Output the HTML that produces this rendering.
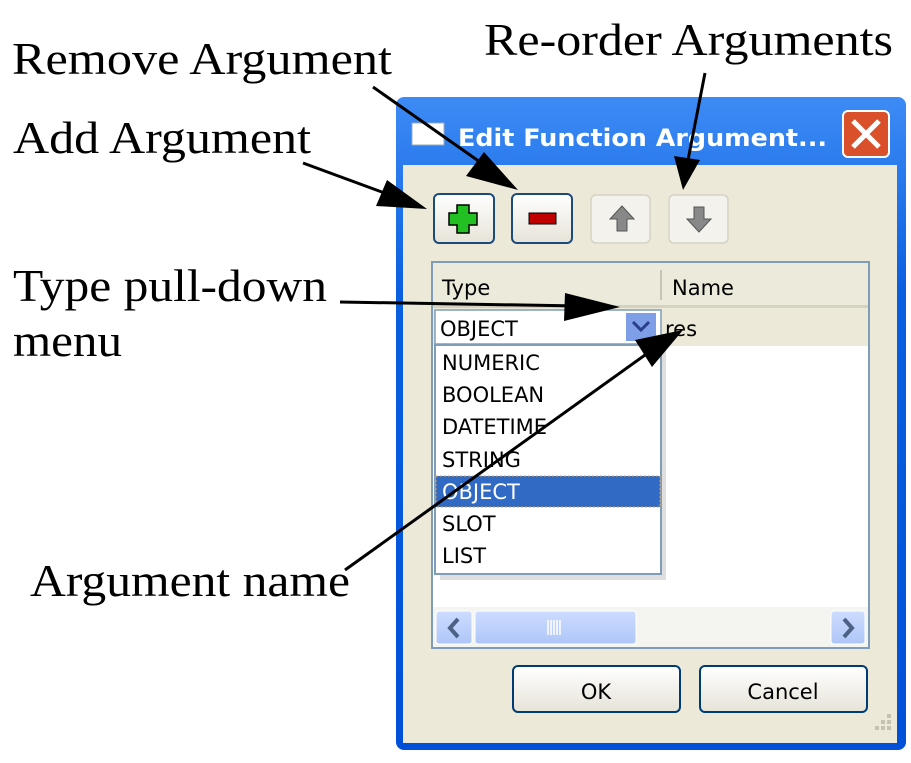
<!DOCTYPE html>
<html><head><meta charset="utf-8"><style>
html,body{margin:0;padding:0;background:#fff;}
svg{display:block}
.ui{font-family:"DejaVu Sans","Liberation Sans",sans-serif;font-size:21px;fill:#000}
.lbl{font-family:"Liberation Serif",serif;font-size:45px;fill:#000}
</style></head><body>
<svg width="911" height="763" viewBox="0 0 911 763" xmlns="http://www.w3.org/2000/svg">
<defs>
<linearGradient id="tb" x1="0" y1="0" x2="0" y2="1"><stop offset="0" stop-color="#3d8bf5"/><stop offset="0.3" stop-color="#0a5fe0"/><stop offset="1" stop-color="#0050d8"/></linearGradient>
<linearGradient id="btn" x1="0" y1="0" x2="0" y2="1"><stop offset="0" stop-color="#ffffff"/><stop offset="1" stop-color="#e6e3d8"/></linearGradient>
<linearGradient id="sb" x1="0" y1="0" x2="0" y2="1"><stop offset="0" stop-color="#cddcff"/><stop offset="1" stop-color="#aec6f7"/></linearGradient>
</defs>
<rect x="396" y="97" width="510" height="653" rx="8" fill="url(#tb)"/>
<rect x="403" y="165" width="494" height="578" fill="#ece9d8"/>
<rect x="412" y="123" width="32" height="22" fill="#fff" stroke="#9ab" stroke-width="1"/>
<text x="458" y="146" font-family="DejaVu Sans,sans-serif" font-weight="bold" font-size="24" fill="#fff" textLength="369" lengthAdjust="spacingAndGlyphs">Edit Function Argument...</text>
<rect x="843" y="111" width="46" height="46" rx="5" fill="#d9502a" stroke="#fff" stroke-width="2"/>
<path d="M853 121 L879 147 M879 121 L853 147" stroke="#fff" stroke-width="5"/>
<rect x="434" y="194" width="60" height="49" rx="5" fill="url(#btn)" stroke="#1c4a7a" stroke-width="2"/>
<path d="M457 205 h12 v8 h8 v12 h-8 v8 h-12 v-8 h-8 v-12 h8z" fill="#22c022" stroke="#000" stroke-width="1.5"/>
<rect x="512" y="194" width="60" height="49" rx="5" fill="url(#btn)" stroke="#1c4a7a" stroke-width="2"/>
<rect x="529" y="213" width="27" height="11" fill="#c00000" stroke="#000" stroke-width="1"/>
<rect x="591" y="195" width="59" height="48" rx="5" fill="#f3f2ec" stroke="#d6d3c6" stroke-width="1.5"/>
<path d="M622 206 l-12 13 h7 v12 h10 v-12 h7z" fill="#888" stroke="#555" stroke-width="1"/>
<rect x="669" y="195" width="59" height="48" rx="5" fill="#f3f2ec" stroke="#d6d3c6" stroke-width="1.5"/>
<path d="M699 232 l-12 -13 h7 v-12 h10 v12 h7z" fill="#888" stroke="#555" stroke-width="1"/>
<rect x="432" y="262" width="437" height="386" fill="#fff" stroke="#7f9db9" stroke-width="2"/>
<rect x="433" y="263" width="435" height="44" fill="#ebeadb"/>
<rect x="433" y="305" width="435" height="3" fill="#d6d2c2"/>
<line x1="661" y1="270" x2="661" y2="300" stroke="#c8c5b4" stroke-width="2"/>
<text class="ui" x="442" y="295">Type</text>
<text class="ui" x="672" y="295">Name</text>
<rect x="433" y="308" width="435" height="38" fill="#ece9d8"/>
<rect x="435" y="310" width="226" height="34" fill="#fff" stroke="#7f9db9" stroke-width="1.5"/>
<text class="ui" x="440" y="336">OBJECT</text>
<rect x="626" y="313" width="30" height="28" fill="#7f9ee8"/>
<path d="M633 322 l8 8 l8 -8" stroke="#2a3f8a" stroke-width="3" fill="none"/>
<text class="ui" x="665" y="336">res</text>
<rect x="440" y="350" width="226" height="230" fill="#c8c8c8" opacity="0.6"/>
<rect x="435" y="345" width="226" height="229" fill="#fff" stroke="#7f9db9" stroke-width="2"/>
<rect x="436" y="476" width="224" height="31" fill="#316ac5" stroke="#e0a040" stroke-width="1" stroke-dasharray="2,2"/>
<text class="ui" x="442" y="370">NUMERIC</text>
<text class="ui" x="442" y="402">BOOLEAN</text>
<text class="ui" x="442" y="434">DATETIME</text>
<text class="ui" x="442" y="467">STRING</text>
<text class="ui" x="442" y="499" style="fill:#fff">OBJECT</text>
<text class="ui" x="442" y="531">SLOT</text>
<text class="ui" x="442" y="563">LIST</text>
<rect x="433" y="607" width="435" height="40" fill="#f4f4f0"/>
<rect x="436" y="611" width="36" height="33" rx="3" fill="url(#sb)" stroke="#fff"/>
<path d="M458 619 l-8 9 l8 9" stroke="#4d6185" stroke-width="4" fill="none"/>
<rect x="475" y="611" width="161" height="33" rx="3" fill="url(#sb)" stroke="#fff"/>
<path d="M548 620 v15 M551 620 v15 M554 620 v15 M557 620 v15 M560 620 v15" stroke="#fff" stroke-width="1.5"/>
<rect x="831" y="611" width="34" height="33" rx="3" fill="url(#sb)" stroke="#fff"/>
<path d="M844 619 l8 9 l-8 9" stroke="#4d6185" stroke-width="4" fill="none"/>
<rect x="513" y="666" width="167" height="46" rx="5" fill="url(#btn)" stroke="#003c74" stroke-width="2"/>
<text class="ui" x="596" y="699" text-anchor="middle">OK</text>
<rect x="700" y="666" width="167" height="46" rx="5" fill="url(#btn)" stroke="#003c74" stroke-width="2"/>
<text class="ui" x="783" y="699" text-anchor="middle">Cancel</text>
<g fill="#c5c2b2"><rect x="887" y="714" width="4" height="4"/><rect x="881" y="720" width="4" height="4"/><rect x="887" y="720" width="4" height="4"/><rect x="875" y="726" width="4" height="4"/><rect x="881" y="726" width="4" height="4"/><rect x="887" y="726" width="4" height="4"/></g>
<text class="lbl" x="12" y="74" textLength="380" lengthAdjust="spacingAndGlyphs">Remove Argument</text>
<text class="lbl" x="484" y="55" textLength="409" lengthAdjust="spacingAndGlyphs">Re-order Arguments</text>
<text class="lbl" x="13" y="153" textLength="298" lengthAdjust="spacingAndGlyphs">Add Argument</text>
<text class="lbl" x="13" y="301" textLength="314" lengthAdjust="spacingAndGlyphs">Type pull-down</text>
<text class="lbl" x="13" y="356" textLength="109" lengthAdjust="spacingAndGlyphs">menu</text>
<text class="lbl" x="30" y="596" textLength="320" lengthAdjust="spacingAndGlyphs">Argument name</text>
<g stroke="#000" stroke-width="3" fill="none">
<line x1="303" y1="163" x2="390" y2="195"/>
<line x1="373" y1="87" x2="480" y2="162"/>
<line x1="705" y1="73" x2="688" y2="160"/>
<line x1="340" y1="302" x2="580" y2="306"/>
<line x1="345" y1="570" x2="645" y2="355"/>
</g>
<g fill="#000">
<polygon points="427,209 376,206 387,180"/>
<polygon points="518,190 466,176 484,152"/>
<polygon points="683,190 674,156 700,160"/>
<polygon points="620,307 565,293 564,321"/>
<polygon points="683,330 635,340 652,367"/>
</g>
</svg>
</body></html>
